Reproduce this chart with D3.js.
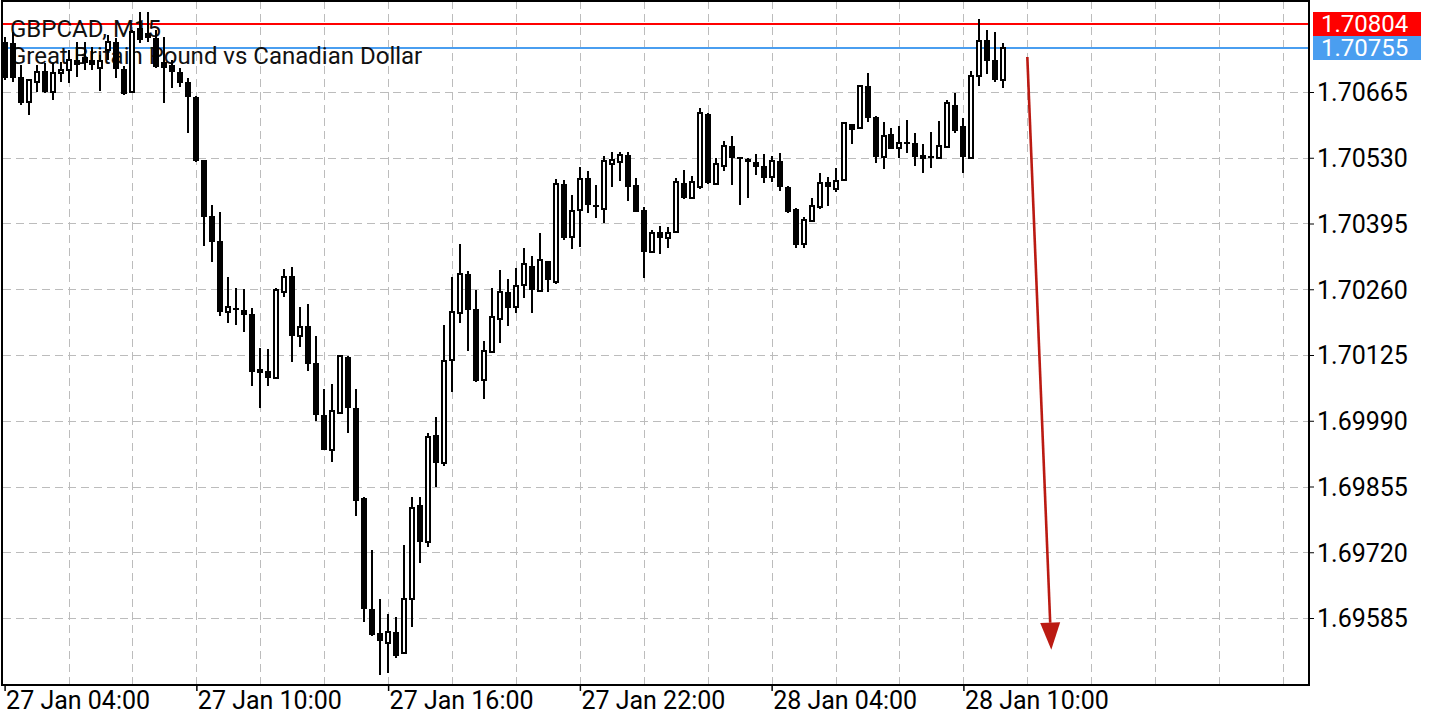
<!DOCTYPE html>
<html><head><meta charset="utf-8">
<script src="https://cdn.jsdelivr.net/npm/d3@7"></script>
<style>html,body{margin:0;padding:0;background:#fff;} svg{display:block;font-family:Roboto,sans-serif;}</style>
</head><body><svg id="c" width="1440" height="720"></svg>
<script>
const symbol = "GBPCAD, M15";
const description = "Great Britain Pound vs Canadian Dollar";
const opens = [1.70768,1.70766,1.70696,1.70644,1.70686,1.70708,1.70665,1.70704,1.70710,1.70731,
1.70737,1.70731,1.70714,1.70751,1.70768,1.70712,1.70665,1.70796,1.70786,1.70776,
1.70727,1.70720,1.70706,1.70686,1.70655,1.70525,1.70411,1.70359,1.70213,1.70222,
1.70218,1.70209,1.70096,1.70092,1.70078,1.70254,1.70287,1.70164,1.70185,1.70109,
1.70002,1.69930,1.70006,1.70121,1.70016,1.69832,1.69604,1.69554,1.69534,1.69556,
1.69513,1.69624,1.69817,1.69741,1.69961,1.69903,1.70115,1.70211,1.70291,1.70220,
1.70074,1.70131,1.70199,1.70254,1.70224,1.70269,1.70308,1.70257,1.70318,1.70275,
1.70476,1.70367,1.70423,1.70488,1.70433,1.70425,1.70517,1.70521,1.70536,1.70474,
1.70423,1.70337,1.70378,1.70365,1.70378,1.70478,1.70447,1.70470,1.70620,1.70476,
1.70513,1.70554,1.70530,1.70528,1.70521,1.70513,1.70491,1.70523,1.70470,1.70425,
1.70353,1.70400,1.70429,1.70480,1.70466,1.70484,1.70599,1.70591,1.70677,1.70614,
1.70532,1.70579,1.70550,1.70560,1.70560,1.70536,1.70532,1.70530,1.70552,1.70638,
1.70595,1.70530,1.70698,1.70772,1.70731,1.70690];
const highs = [1.70778,1.70788,1.70720,1.70691,1.70720,1.70725,1.70725,1.70727,1.70751,1.70768,
1.70768,1.70757,1.70741,1.70782,1.70776,1.70718,1.70792,1.70829,1.70829,1.70792,
1.70778,1.70731,1.70714,1.70694,1.70656,1.70526,1.70433,1.70419,1.70285,1.70263,
1.70261,1.70222,1.70139,1.70137,1.70263,1.70302,1.70306,1.70224,1.70230,1.70164,
1.70055,1.70066,1.70125,1.70123,1.70055,1.69833,1.69725,1.69624,1.69593,1.69587,
1.69735,1.69834,1.69834,1.69965,1.69998,1.70187,1.70285,1.70353,1.70298,1.70259,
1.70154,1.70263,1.70300,1.70281,1.70304,1.70345,1.70328,1.70376,1.70319,1.70486,
1.70484,1.70454,1.70511,1.70503,1.70474,1.70534,1.70542,1.70542,1.70542,1.70488,
1.70429,1.70382,1.70390,1.70388,1.70488,1.70505,1.70493,1.70632,1.70622,1.70530,
1.70564,1.70575,1.70531,1.70530,1.70538,1.70538,1.70534,1.70540,1.70471,1.70426,
1.70408,1.70447,1.70499,1.70491,1.70509,1.70602,1.70600,1.70678,1.70704,1.70615,
1.70603,1.70591,1.70595,1.70608,1.70581,1.70558,1.70583,1.70605,1.70649,1.70663,
1.70612,1.70708,1.70815,1.70792,1.70788,1.70766];
const lows = [1.70690,1.70686,1.70638,1.70618,1.70665,1.70663,1.70649,1.70686,1.70684,1.70696,
1.70710,1.70710,1.70667,1.70731,1.70694,1.70659,1.70663,1.70766,1.70768,1.70714,
1.70642,1.70673,1.70675,1.70581,1.70521,1.70349,1.70316,1.70205,1.70191,1.70187,
1.70172,1.70061,1.70016,1.70061,1.70077,1.70244,1.70111,1.70142,1.70092,1.69990,
1.69929,1.69905,1.70005,1.69965,1.69795,1.69577,1.69549,1.69468,1.69472,1.69503,
1.69512,1.69567,1.69698,1.69731,1.69854,1.69897,1.70049,1.70191,1.70133,1.70070,
1.70035,1.70131,1.70150,1.70185,1.70211,1.70242,1.70211,1.70256,1.70254,1.70271,
1.70361,1.70343,1.70347,1.70417,1.70406,1.70396,1.70470,1.70482,1.70441,1.70418,
1.70283,1.70336,1.70332,1.70345,1.70376,1.70446,1.70446,1.70466,1.70476,1.70474,
1.70503,1.70474,1.70433,1.70447,1.70495,1.70478,1.70480,1.70462,1.70417,1.70345,
1.70345,1.70398,1.70425,1.70431,1.70460,1.70483,1.70558,1.70590,1.70603,1.70519,
1.70507,1.70547,1.70530,1.70540,1.70513,1.70499,1.70509,1.70529,1.70551,1.70581,
1.70499,1.70529,1.70677,1.70702,1.70686,1.70673];
const closes = [1.70694,1.70694,1.70642,1.70690,1.70706,1.70665,1.70704,1.70710,1.70731,1.70720,
1.70725,1.70720,1.70729,1.70768,1.70712,1.70661,1.70788,1.70772,1.70776,1.70716,
1.70714,1.70706,1.70684,1.70655,1.70523,1.70408,1.70357,1.70213,1.70224,1.70218,
1.70207,1.70090,1.70088,1.70078,1.70259,1.70285,1.70164,1.70183,1.70107,1.70002,
1.69930,1.70010,1.70123,1.70016,1.69825,1.69604,1.69550,1.69538,1.69556,1.69507,
1.69624,1.69811,1.69741,1.69957,1.69903,1.70113,1.70213,1.70291,1.70218,1.70072,
1.70133,1.70203,1.70254,1.70222,1.70267,1.70312,1.70259,1.70320,1.70279,1.70476,
1.70365,1.70421,1.70486,1.70433,1.70429,1.70523,1.70525,1.70536,1.70470,1.70419,
1.70337,1.70376,1.70365,1.70376,1.70480,1.70447,1.70480,1.70622,1.70478,1.70517,
1.70554,1.70530,1.70529,1.70521,1.70511,1.70488,1.70523,1.70470,1.70419,1.70351,
1.70402,1.70431,1.70478,1.70470,1.70482,1.70601,1.70587,1.70677,1.70612,1.70532,
1.70575,1.70548,1.70560,1.70558,1.70532,1.70528,1.70531,1.70554,1.70642,1.70585,
1.70532,1.70698,1.70770,1.70729,1.70690,1.70755];
const timeLabels = ["27 Jan 04:00","27 Jan 10:00","27 Jan 16:00","27 Jan 22:00","28 Jan 04:00","28 Jan 10:00"];
const timeLabelIdx = [0,24,48,72,96,120];
const yTicks = [1.70665,1.70530,1.70395,1.70260,1.70125,1.69990,1.69855,1.69720,1.69585];
const askPrice = 1.70804;
const bidPrice = 1.70755;
const arrowFrom = {i:128, p:1.70737};
const arrowTo = {i:131, p:1.69520};

const L = 3, R = 1309, T = 1, B = 685;
const svg = d3.select("#c");
const x = d3.scaleLinear().domain([0, 125]).range([4.6, 4.6 + 125 * 7.99]);
const y = d3.scaleLinear().domain([1.69585, 1.70665]).range([618, 92]);
const data = opens.map((o, i) => ({i, o, h: highs[i], l: lows[i], c: closes[i]}));
const cx = i => Math.round(x(i));
const ry = p => Math.round(y(p));

// grid
const grid = svg.append("g").attr("stroke", "#bcbcbc").attr("stroke-width", 1).attr("stroke-dasharray", "8,5");
grid.selectAll("line.h").data(yTicks).join("line").attr("class","h")
  .attr("x1", L).attr("x2", R).attr("y1", d => ry(d) + 0.5).attr("y2", d => ry(d) + 0.5);
const vIdx = d3.range(8, 161, 8);
grid.selectAll("line.v").data(vIdx).join("line").attr("class","v")
  .attr("y1", T).attr("y2", B).attr("x1", d => cx(d) + 0.5).attr("x2", d => cx(d) + 0.5);

// price lines
svg.append("line").attr("x1", L).attr("x2", R).attr("y1", ry(askPrice)).attr("y2", ry(askPrice))
  .attr("stroke", "#ff0000").attr("stroke-width", 2);
svg.append("line").attr("x1", L).attr("x2", R).attr("y1", ry(bidPrice)).attr("y2", ry(bidPrice))
  .attr("stroke", "#4a9ef0").attr("stroke-width", 2);

// title
svg.append("text").attr("x", 10).attr("y", 37).attr("font-size", 24).attr("fill", "#111").text(symbol);
svg.append("text").attr("x", 10).attr("y", 64).attr("font-size", 24).attr("fill", "#111").text(description);

// candles
const cg = svg.append("g").attr("shape-rendering", "crispEdges");
cg.selectAll("rect.w").data(data).join("rect").attr("class","w")
  .attr("x", d => cx(d.i) - 1).attr("width", 2)
  .attr("y", d => ry(d.h)).attr("height", d => Math.max(1, ry(d.l) - ry(d.h)))
  .attr("fill", "#000");
cg.selectAll("rect.b").data(data).join("rect").attr("class","b")
  .attr("x", d => d.c > d.o ? cx(d.i) - 2 : cx(d.i) - 3)
  .attr("width", d => d.c > d.o ? 4 : 6)
  .attr("y", d => { const t = ry(Math.max(d.o, d.c)), b = ry(Math.min(d.o, d.c)); return (b - t < 2) ? t - 1 : t; })
  .attr("height", d => Math.max(2, ry(Math.min(d.o, d.c)) - ry(Math.max(d.o, d.c))))
  .attr("fill", d => d.c > d.o ? "#fff" : "#000")
  .attr("stroke", d => d.c > d.o ? "#000" : "none")
  .attr("stroke-width", 2);

// arrow
const ax1 = x(arrowFrom.i), ay1 = y(arrowFrom.p), ax2 = x(arrowTo.i), ay2 = y(arrowTo.p);
const ang = Math.atan2(ay2 - ay1, ax2 - ax1);
const headL = 27, headW = 10;
const bx = ax2 - headL * Math.cos(ang), by = ay2 - headL * Math.sin(ang);
svg.append("line").attr("x1", ax1).attr("y1", ay1).attr("x2", bx).attr("y2", by)
  .attr("stroke", "#bb1a12").attr("stroke-width", 2.6);
const px = -Math.sin(ang), py = Math.cos(ang);
svg.append("path").attr("d", `M${ax2},${ay2}L${bx + px*headW},${by + py*headW}L${bx - px*headW},${by - py*headW}Z`)
  .attr("fill", "#bb1a12");

// frame
svg.append("rect").attr("x", 2).attr("y", 1).attr("width", R - 2).attr("height", B - 1)
  .attr("fill", "none").attr("stroke", "#000").attr("stroke-width", 2);

// y axis
const yAxis = d3.axisRight(y).tickValues(yTicks).tickFormat(d3.format(".5f")).tickSize(5).tickPadding(3);
const yg = svg.append("g").attr("transform", `translate(${R},0)`).call(yAxis);
yg.select(".domain").remove();
yg.selectAll("text").attr("font-size", 25).attr("font-family", "Roboto").attr("fill", "#000").attr("dy", "0.35em");
yg.selectAll("line").attr("stroke", "#000");

// x axis
const xAxis = d3.axisBottom(x).tickValues(timeLabelIdx).tickFormat((d, i) => timeLabels[i]).tickSize(6).tickPadding(0);
const xg = svg.append("g").attr("transform", `translate(0,${B})`).call(xAxis);
xg.select(".domain").remove();
xg.selectAll("text").attr("font-size", 25).attr("font-family", "Roboto").attr("fill", "#000")
  .attr("text-anchor", "start").attr("x", 1).attr("y", 24).attr("dy", 0);
xg.selectAll("line").attr("stroke", "#000").attr("stroke-width", 1.5);

// price labels
const labels = [{p: askPrice, col: "#ff0000"}, {p: bidPrice, col: "#4a9ef0"}];
labels.forEach(o => {
  svg.append("rect").attr("x", 1313).attr("y", ry(o.p) - 12).attr("width", 108).attr("height", 24).attr("fill", o.col);
  svg.append("text").attr("x", 1321).attr("y", ry(o.p) + 8).attr("font-size", 24).attr("fill", "#fff").text(d3.format(".5f")(o.p));
});
</script></body></html>
